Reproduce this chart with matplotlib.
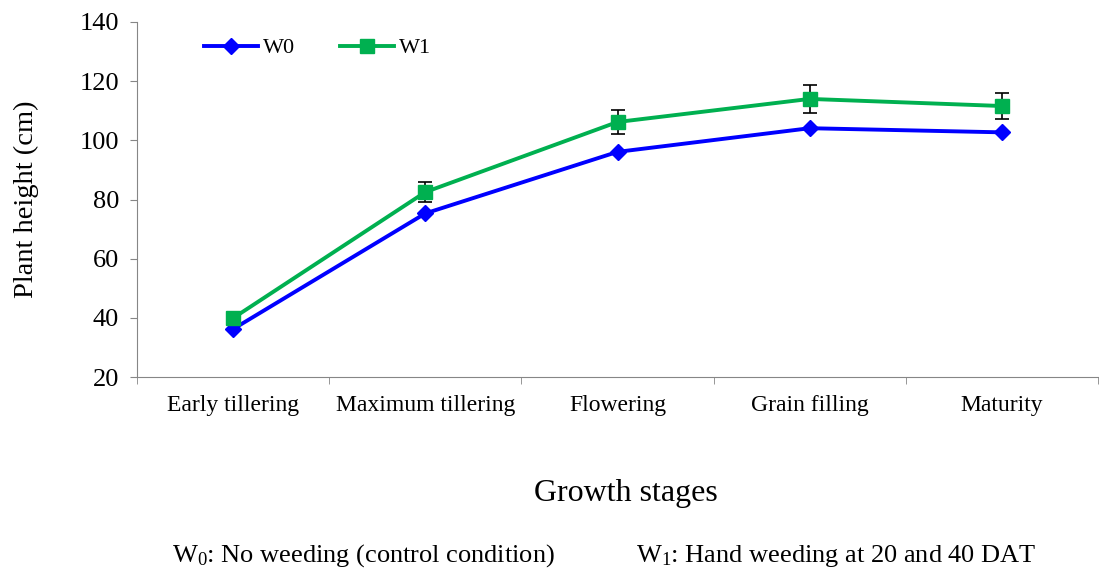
import matplotlib.pyplot as plt
import numpy as np

# données
stages = ["Early tillering", "Maximum tillering", "Flowering", "Grain filling", "Maturity"]
w0 = [36.2, 75.3, 96.1, 104.1, 102.7]
w1 = [39.9, 82.5, 106.2, 114.0, 111.6]
w1_err = [1.0, 3.3, 4.2, 4.6, 4.4]
yticks = [20, 40, 60, 80, 100, 120, 140]

plt.rcParams['font.family'] = ['Liberation Serif', 'DejaVu Serif']
plt.rcParams['mathtext.fontset'] = 'custom'
plt.rcParams['mathtext.rm'] = 'Liberation Serif'
plt.rcParams['mathtext.it'] = 'Liberation Serif:italic'

fig = plt.figure(figsize=(10.99, 5.74), dpi=100)
ax = fig.add_axes([137 / 1099, 1 - 377 / 574, (1098 - 137) / 1099, (377 - 22) / 574])

x = np.arange(len(stages))

# barres d'erreur sous les courbes
ax.errorbar(x, w1, yerr=w1_err, fmt='none', ecolor='black', elinewidth=1.2,
            capsize=5, capthick=1.2, zorder=2)
ax.plot(x, w0, color='#0000FF', lw=2.8, marker='D', markersize=8.5, label='W0', zorder=3)
ax.plot(x, w1, color='#00B050', lw=2.8, marker='s', markersize=10, label='W1', zorder=4)

ax.set_xlim(-0.5, len(stages) - 0.5)
ax.set_ylim(20, 140)
ax.set_yticks(yticks)
ax.set_xticks(x)
ax.set_xticklabels(stages, fontsize=17)
ax.set_xticks(np.arange(-0.5, len(stages), 1.0), minor=True)
ax.tick_params(axis='x', which='major', length=0, pad=13)
ax.tick_params(axis='x', which='minor', length=5, color='#868686')
ax.tick_params(axis='y', labelsize=19, length=5, color='#868686', pad=8)

for s in ['top', 'right']:
    ax.spines[s].set_visible(False)
for s in ['left', 'bottom']:
    ax.spines[s].set_color('#868686')

ax.set_ylabel('Plant height (cm)', fontsize=20.5, labelpad=29)
ax.set_xlabel('Growth stages', fontsize=23, labelpad=45)
ax.xaxis.label.set_x((626 - 137) / 961)

ax.legend(loc='center left', bbox_to_anchor=((204 - 137) / 961, (377 - 48) / 355),
          ncol=2, frameon=False, fontsize=16, handlelength=2.45, columnspacing=2.0,
          handletextpad=0.22, borderaxespad=0, borderpad=0)

fig.text(363 / 1099, 1 - 556 / 574, r'W$_0$: No weeding (control condition)',
         fontsize=19, ha='center', va='center')
fig.text(636 / 1099, 1 - 556 / 574, r'W$_1$: Hand weeding at 20 and 40 DAT',
         fontsize=19, ha='left', va='center')

fig.savefig('out.png', dpi=100)
